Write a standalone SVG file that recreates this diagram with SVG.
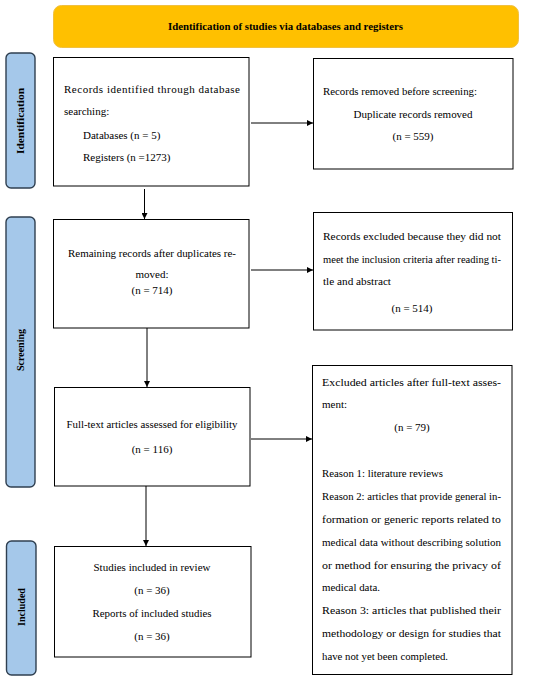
<svg xmlns="http://www.w3.org/2000/svg" width="550" height="683" viewBox="0 0 550 683">
<defs>
<marker id="ah" viewBox="0 0 10 10" refX="10" refY="5" markerWidth="6" markerHeight="6" markerUnits="userSpaceOnUse" orient="auto">
<path d="M0,0 L10,5 L0,10 z" fill="#000"/>
</marker>
<style>
.box{fill:#fff;stroke:#000;stroke-width:1}
.side{fill:#A5C8EA;stroke:#2F3F50;stroke-width:1.4}
.banner{fill:#FFC000;stroke:#F0C040;stroke-width:1}
text{font-family:"Liberation Serif","Times New Roman",serif;font-size:11px;fill:#000}
.c{text-anchor:middle}
.b{font-weight:bold}
.t{font-size:10px}
.conn{stroke:#000;stroke-width:1;fill:none;marker-end:url(#ah)}
</style>
</defs>
<rect width="550" height="683" fill="#fff"/>
<g id="banner">
<rect class="banner" x="53.5" y="5.5" width="465" height="42" rx="8"/>
<text class="c b t" x="285.5" y="30" textLength="235" lengthAdjust="spacingAndGlyphs">Identification of studies via databases and registers</text>
</g>
<g id="label-identification">
<rect class="side" x="6" y="53" width="29" height="135" rx="5"/>
<text class="c b t" transform="translate(24,121) rotate(-90)" textLength="66" lengthAdjust="spacingAndGlyphs">Identification</text>
</g>
<g id="label-screening">
<rect class="side" x="6" y="217" width="29" height="270" rx="5"/>
<text class="c b t" transform="translate(24,350) rotate(-90)">Screening</text>
</g>
<g id="label-included">
<rect class="side" x="6.5" y="541" width="29.5" height="134" rx="5"/>
<text class="c b t" transform="translate(25,607) rotate(-90)">Included</text>
</g>
<g id="box-identified">
<rect class="box" x="53.5" y="57.5" width="195.5" height="128.5"/>
<text x="64" y="93" textLength="176" lengthAdjust="spacing">Records identified through database</text>
<text x="64" y="115">searching:</text>
<text x="83" y="139">Databases (n = 5)</text>
<text x="83" y="161">Registers (n =1273)</text>
</g>
<g id="box-removed">
<rect class="box" x="313.5" y="58.5" width="199.5" height="110.5"/>
<text x="323" y="95" textLength="154" lengthAdjust="spacingAndGlyphs">Records removed before screening:</text>
<text class="c" x="413" y="118" textLength="119" lengthAdjust="spacingAndGlyphs">Duplicate records removed</text>
<text class="c" x="413" y="140">(n = 559)</text>
</g>
<g id="box-remaining">
<rect class="box" x="53.5" y="219.5" width="195.5" height="108.5"/>
<text class="c" x="152" y="257" textLength="168" lengthAdjust="spacingAndGlyphs">Remaining records after duplicates re-</text>
<text class="c" x="152" y="278">moved:</text>
<text class="c" x="152" y="294">(n = 714)</text>
</g>
<g id="box-excluded-screen">
<rect class="box" x="313.5" y="212.5" width="199" height="117.5"/>
<text x="323" y="240" textLength="178" lengthAdjust="spacingAndGlyphs">Records excluded because they did not</text>
<text x="323" y="263" textLength="178" lengthAdjust="spacingAndGlyphs">meet the inclusion criteria after reading ti-</text>
<text x="323" y="285" textLength="68" lengthAdjust="spacingAndGlyphs">tle and abstract</text>
<text class="c" x="412" y="312">(n = 514)</text>
</g>
<g id="box-fulltext">
<rect class="box" x="54.5" y="387.5" width="195.5" height="98.5"/>
<text class="c" x="152" y="428" textLength="171" lengthAdjust="spacingAndGlyphs">Full-text articles assessed for eligibility</text>
<text class="c" x="152" y="453">(n = 116)</text>
</g>
<g id="box-excluded-fulltext">
<rect class="box" x="312.5" y="365.5" width="199.5" height="309"/>
<text x="322" y="386" textLength="179" lengthAdjust="spacingAndGlyphs">Excluded articles after full-text asses-</text>
<text x="322" y="408">ment:</text>
<text class="c" x="412" y="431">(n = 79)</text>
<text x="322" y="477" textLength="121" lengthAdjust="spacingAndGlyphs">Reason 1: literature reviews</text>
<text x="322" y="500" textLength="179" lengthAdjust="spacingAndGlyphs">Reason 2: articles that provide general in-</text>
<text x="322" y="523" textLength="179" lengthAdjust="spacingAndGlyphs">formation or generic reports related to</text>
<text x="322" y="546" textLength="179" lengthAdjust="spacingAndGlyphs">medical data without describing solution</text>
<text x="322" y="569" textLength="179" lengthAdjust="spacingAndGlyphs">or method for ensuring the privacy of</text>
<text x="322" y="591" textLength="58" lengthAdjust="spacingAndGlyphs">medical data.</text>
<text x="322" y="614" textLength="179" lengthAdjust="spacingAndGlyphs">Reason 3: articles that published their</text>
<text x="322" y="637" textLength="179" lengthAdjust="spacingAndGlyphs">methodology or design for studies that</text>
<text x="322" y="660" textLength="126" lengthAdjust="spacingAndGlyphs">have not yet been completed.</text>
</g>
<g id="box-included">
<rect class="box" x="54.5" y="546.5" width="196.5" height="110.5"/>
<text class="c" x="152" y="571" textLength="117" lengthAdjust="spacingAndGlyphs">Studies included in review</text>
<text class="c" x="152" y="594">(n = 36)</text>
<text class="c" x="152" y="617" textLength="119" lengthAdjust="spacingAndGlyphs">Reports of included studies</text>
<text class="c" x="152" y="640">(n = 36)</text>
</g>
<g id="connectors">
<line class="conn" x1="251" y1="123" x2="313" y2="123"/>
<line class="conn" x1="144.5" y1="189" x2="144.5" y2="219"/>
<line class="conn" x1="251" y1="270" x2="313" y2="270"/>
<line class="conn" x1="147" y1="328" x2="147" y2="387"/>
<line class="conn" x1="251" y1="439" x2="312" y2="439"/>
<line class="conn" x1="146" y1="486" x2="146" y2="546"/>
</g>
</svg>
